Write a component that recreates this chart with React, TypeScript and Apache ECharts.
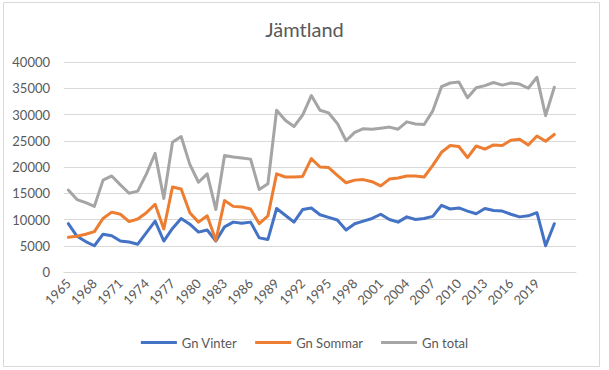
import React, { useEffect, useRef } from "react";
import * as echarts from "echarts";

const years: string[] = [];
for (let y = 1965; y <= 2021; y++) years.push(String(y));
// two trailing empty category slots, as in the source chart
const categories = [...years, "", " "];

const vinter = [
  9200, 6800, 5800, 5000, 7200, 6900, 5900, 5700, 5300, 7500,
  9700, 5900, 8300, 10200, 9100, 7600, 8000, 5900, 8600, 9500,
  9300, 9500, 6500, 6200, 12100, 10800, 9500, 11900, 12200, 10900,
  10400, 9900, 8000, 9200, 9700, 10200, 11000, 10000, 9500, 10500,
  10000, 10200, 10600, 12700, 12000, 12200, 11600, 11100, 12100, 11700,
  11600, 11000, 10500, 10700, 11300, 5000, 9200,
];

const sommar = [
  6600, 6800, 7200, 7700, 10200, 11400, 11000, 9600, 10100, 11300,
  12900, 8200, 16200, 15800, 11300, 9500, 10700, 6000, 13600, 12500,
  12400, 12000, 9200, 10700, 18700, 18100, 18100, 18200, 21600, 20000,
  19900, 18400, 17000, 17500, 17600, 17200, 16400, 17700, 17900, 18300,
  18300, 18100, 20300, 22800, 24100, 23900, 21800, 24000, 23400, 24200,
  24100, 25100, 25300, 24200, 25900, 24900, 26200,
];

const total = [
  15600, 13800, 13200, 12500, 17500, 18300, 16600, 15000, 15400, 18700,
  22600, 14000, 24700, 25800, 20500, 17100, 18700, 11900, 22200, 21900,
  21700, 21500, 15700, 16800, 30800, 28900, 27700, 29900, 33600, 30800,
  30300, 28300, 25000, 26600, 27300, 27200, 27400, 27600, 27200, 28600,
  28200, 28100, 30700, 35300, 36000, 36200, 33200, 35100, 35500, 36100,
  35600, 36000, 35800, 35000, 37100, 29800, 35200,
];

const seriesNames = ["Gn Vinter", "Gn Sommar", "Gn total"];
const colors = ["#4472C4", "#ED7D31", "#A5A5A5"];

const FONT = "Lato, 'Liberation Sans', sans-serif";
const TEXT = "#595959";

export default function App() {
  const ref = useRef<HTMLDivElement>(null);

  useEffect(() => {
    if (!ref.current) return;
    const chart = echarts.init(ref.current, undefined, { renderer: "svg" });
    const datasets = [vinter, sommar, total];
    chart.setOption({
      animation: false,
      backgroundColor: "#ffffff",
      textStyle: { fontFamily: FONT },
      title: {
        text: "Jämtland",
        left: "center",
        top: 14,
        textStyle: { fontFamily: FONT, fontSize: 20, fontWeight: "normal", color: TEXT },
      },
      graphic: [
        {
          type: "rect",
          shape: { x: 3.5, y: 2.5, width: 596, height: 364 },
          style: { fill: "none", stroke: "#d9d9d9", lineWidth: 1 },
          silent: true,
        },
      ],
      grid: { left: 64, right: 33, top: 62, bottom: 98, containLabel: false },
      legend: {
        data: seriesNames,
        top: 331,
        left: "center",
        icon: "rect",
        itemWidth: 36,
        itemHeight: 3,
        itemGap: 18,
        textStyle: { fontFamily: FONT, fontSize: 13, color: TEXT },
      },
      xAxis: {
        type: "category",
        data: categories,
        boundaryGap: true,
        axisLine: { show: true, lineStyle: { color: "#d9d9d9", width: 1 } },
        axisTick: { show: false },
        axisLabel: {
          interval: 2,
          rotate: 45,
          margin: 9,
          fontFamily: FONT,
          fontSize: 13,
          color: TEXT,
        },
      },
      yAxis: {
        type: "value",
        min: 0,
        max: 40000,
        interval: 5000,
        axisLine: { show: false },
        axisTick: { show: false },
        splitLine: { lineStyle: { color: "#d9d9d9", width: 1 } },
        axisLabel: {
          margin: 14,
          fontFamily: FONT,
          fontSize: 13,
          color: TEXT,
          formatter: (v: number) => String(v),
        },
      },
      series: datasets.map((d, i) => ({
        name: seriesNames[i],
        type: "line",
        data: d,
        symbol: "none",
        showSymbol: false,
        color: colors[i],
        lineStyle: { color: colors[i], width: 3, cap: "round", join: "round" },
        itemStyle: { color: colors[i] },
      })),
    });
    return () => chart.dispose();
  }, []);

  return (
    <div
      ref={ref}
      style={{ position: "fixed", left: 0, top: 0, width: 609, height: 370 }}
    />
  );
}
